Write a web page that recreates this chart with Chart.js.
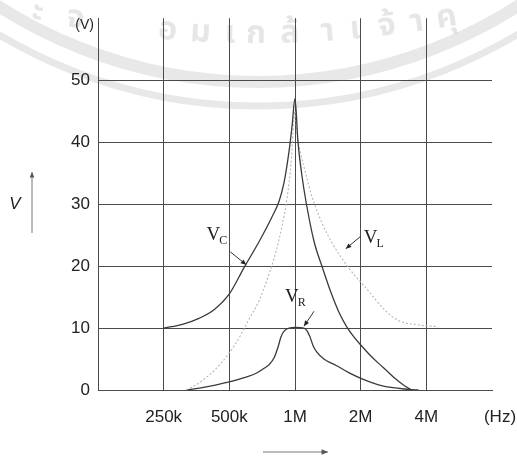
<!DOCTYPE html>
<html><head><meta charset="utf-8">
<script src="https://cdn.jsdelivr.net/npm/chart.js@4"></script>
<style>html,body{margin:0;padding:0;background:#fff}#wrap{width:517px;height:456px;position:relative}</style>
</head><body><div id="wrap"><canvas id="c" width="517" height="456"></canvas></div>
<script>
// ---- data (frequency in kHz, voltage in V) ----
const xTickValues = [125, 250, 500, 1000, 2000, 4000];
const xTickLabels = ['', '250k', '500k', '1M', '2M', '4M'];
const yTickValues = [0, 10, 20, 30, 40, 50, 60];
const yTickLabels = ['0', '10', '20', '30', '40', '50', ''];

const freqC = [250, 305, 365, 427, 500, 585, 686, 786, 846, 891, 939, 969, 1000,
               1032, 1077, 1122, 1222, 1328, 1459, 1588, 1727, 1858, 2021, 2198, 2416, 2656, 2888, 3142, 3417];
const vC    = [10, 10.6, 11.6, 13, 15.5, 19.8, 24, 28, 30.5, 33.5, 38.5, 42.5, 47,
               40, 34.5, 30.5, 24, 20, 15.8, 12.6, 10.2, 8.6, 7.1, 5.7, 4.3, 3.0, 1.8, 0.8, 0];

const freqL = [318, 365, 436, 500, 556, 617, 686, 745, 819, 872, 920, 959, 1000,
               1021, 1065, 1122, 1196, 1328, 1475, 1763, 2109, 2600, 2981, 3680, 4535];
const vL    = [0, 1.2, 3.5, 6, 8.5, 11.5, 14.5, 17.8, 22.4, 26.5, 31, 36.5, 45,
               41.5, 38, 34.8, 31.2, 27, 23.8, 19.7, 16.5, 12.8, 11.2, 10.5, 10.2];

const freqR = [318, 365, 500, 585, 664, 722, 761, 802, 837, 863, 891, 939, 1010, 1099,
               1134, 1171, 1209, 1260, 1356, 1538, 1763, 2030, 2490, 3310, 3680];
const vR    = [0, 0.3, 1.3, 2.0, 2.7, 3.5, 4.1, 5.2, 7.0, 8.6, 9.5, 10.0, 10.1, 10,
               9.6, 8.6, 7.2, 6.1, 5.0, 4.0, 2.8, 1.8, 0.7, 0.1, 0];

const seriesNames = ['V_C', 'V_L', 'V_R'];
const xUnit = '(Hz)';
const yUnit = '(V)';
const yName = 'V';

const toPts = (fs, vs) => fs.map((f, i) => ({x: f, y: vs[i]}));

const GRID = '#4a4a4a';
const TXT = '#222';

function arrow(ctx, x1, y1, x2, y2, head) {
  ctx.beginPath(); ctx.moveTo(x1, y1); ctx.lineTo(x2, y2); ctx.stroke();
  const a = Math.atan2(y2 - y1, x2 - x1);
  ctx.beginPath();
  ctx.moveTo(x2, y2);
  ctx.lineTo(x2 - head * Math.cos(a - 0.4), y2 - head * Math.sin(a - 0.4));
  ctx.lineTo(x2 - head * Math.cos(a + 0.4), y2 - head * Math.sin(a + 0.4));
  ctx.closePath(); ctx.fill();
}

function subLabel(ctx, main, sub, x, y) {
  ctx.font = '19px "Liberation Serif", "DejaVu Serif", serif';
  ctx.textAlign = 'left'; ctx.textBaseline = 'alphabetic';
  ctx.fillText(main, x, y);
  const w = ctx.measureText(main).width;
  ctx.font = '12px "Liberation Serif", "DejaVu Serif", serif';
  ctx.fillText(sub, x + w - 1, y + 4);
}

const decor = {
  id: 'decor',
  beforeDraw(chart) {
    const ctx = chart.ctx;
    ctx.save();
    ctx.fillStyle = '#fff';
    ctx.fillRect(0, 0, chart.width, chart.height);
    // faint scan watermark (seal arcs + text)
    const cx = 258, cy = -400;
    ctx.strokeStyle = 'rgba(140,140,140,0.20)';
    ctx.lineWidth = 12; ctx.beginPath(); ctx.arc(cx, cy, 482, 0, Math.PI); ctx.stroke();
    ctx.lineWidth = 7; ctx.beginPath(); ctx.arc(cx, cy, 506, 0, Math.PI); ctx.stroke();
    const clusters = ['ะ', 'จ', 'อ', 'ม', 'เ', 'ก', 'ล้', 'า', 'เ', 'จ้', 'า', 'คุ'];
    const cxs = [36, 74, 167, 200, 230, 256, 290, 328, 356, 388, 418, 448];
    const R = 1100, tcx = 258, tcy = 43 - 1100;
    ctx.fillStyle = 'rgba(140,140,140,0.22)';
    ctx.font = 'bold 32px "Noto Sans Thai", "Noto Sans", "DejaVu Sans", sans-serif';
    ctx.textAlign = 'center'; ctx.textBaseline = 'alphabetic';
    clusters.forEach((c, i) => {
      const a = Math.asin((cxs[i] - tcx) / R);
      const px = tcx + R * Math.sin(a), py = tcy + R * Math.cos(a);
      ctx.save(); ctx.translate(px, py); ctx.rotate(-a); ctx.fillText(c, 0, 0); ctx.restore();
    });
    ctx.restore();
  },
  afterDraw(chart) {
    const ctx = chart.ctx;
    const xs = chart.scales.x, ys = chart.scales.y;
    const P = (f, v) => [xs.getPixelForValue(f), ys.getPixelForValue(v)];
    ctx.save();
    ctx.fillStyle = TXT; ctx.strokeStyle = '#333'; ctx.lineWidth = 1;
    // unit labels
    ctx.font = '14px "Liberation Sans", Arial, sans-serif';
    ctx.textAlign = 'right'; ctx.textBaseline = 'middle';
    ctx.fillText(yUnit, chart.chartArea.left - 4, ys.getPixelForValue(60) + 7);
    ctx.font = '17px "Liberation Sans", Arial, sans-serif';
    ctx.textAlign = 'center'; ctx.textBaseline = 'middle';
    ctx.fillText(xUnit, chart.chartArea.right + 8, 417);
    // y-axis name with arrow
    ctx.font = 'italic 17px "Liberation Sans", Arial, sans-serif';
    ctx.fillText(yName, 15, ys.getPixelForValue(30));
    ctx.strokeStyle = '#777'; ctx.fillStyle = '#555';
    arrow(ctx, 32, 233, 32, 172, 6);
    arrow(ctx, 263, 452, 328, 452, 7);
    // series labels
    ctx.fillStyle = TXT; ctx.strokeStyle = '#333';
    const parts = seriesNames.map(s => s.split('_'));
    let p = P(393, 24.2); subLabel(ctx, parts[0][0], parts[0][1], p[0], p[1]);
    p = P(2065, 23.8); subLabel(ctx, parts[1][0], parts[1][1], p[0], p[1]);
    p = P(900, 14.2); subLabel(ctx, parts[2][0], parts[2][1], p[0], p[1]);
    let a = P(505, 22.3), b = P(598, 20.2); arrow(ctx, a[0], a[1], b[0], b[1], 6);
    a = P(2000, 24.8); b = P(1709, 22.8); arrow(ctx, a[0], a[1], b[0], b[1], 6);
    a = P(1222, 12.7); b = P(1099, 10.3); arrow(ctx, a[0], a[1], b[0], b[1], 6);
    ctx.restore();
  }
};

const lineBase = {pointRadius: 0, fill: false, cubicInterpolationMode: 'monotone'};

new Chart(document.getElementById('c'), {
  type: 'line',
  data: {
    datasets: [
      Object.assign({label: seriesNames[0], data: toPts(freqC, vC), borderColor: '#3a3a3a', borderWidth: 1.3}, lineBase),
      Object.assign({label: seriesNames[1], data: toPts(freqL, vL), borderColor: '#b5b5b5', borderWidth: 1.1, borderDash: [2, 2]}, lineBase),
      Object.assign({label: seriesNames[2], data: toPts(freqR, vR), borderColor: '#3a3a3a', borderWidth: 1.3}, lineBase)
    ]
  },
  options: {
    responsive: false,
    animation: false,
    devicePixelRatio: 1,
    layout: {padding: {left: 0, right: 25, top: 15, bottom: 0}},
    plugins: {legend: {display: false}, tooltip: {enabled: false}},
    scales: {
      x: {
        type: 'logarithmic', min: 125, max: 8000,
        afterBuildTicks: s => { s.ticks = xTickValues.map(v => ({value: v})); },
        afterFit: s => { s.height = 66; },
        ticks: {
          autoSkip: false, maxRotation: 0, padding: 17, color: TXT,
          font: {family: '"Liberation Sans", Arial, sans-serif', size: 17},
          callback: (v) => { const i = xTickValues.indexOf(v); return i >= 0 ? xTickLabels[i] : ''; }
        },
        grid: {color: GRID, lineWidth: 1, drawTicks: false},
        border: {color: GRID, width: 1}
      },
      y: {
        type: 'linear', min: 0, max: 60,
        afterBuildTicks: s => { s.ticks = yTickValues.map(v => ({value: v})); },
        afterFit: s => { s.width = 98; },
        ticks: {
          padding: 8, color: TXT,
          font: {family: '"Liberation Sans", Arial, sans-serif', size: 17},
          callback: (v) => { const i = yTickValues.indexOf(v); return i >= 0 ? yTickLabels[i] : ''; }
        },
        grid: {color: c => (c.tick && c.tick.value === 60) ? 'rgba(0,0,0,0)' : GRID, lineWidth: 1, drawTicks: false},
        border: {color: GRID, width: 1}
      }
    }
  },
  plugins: [decor]
});
</script>
</body></html>
